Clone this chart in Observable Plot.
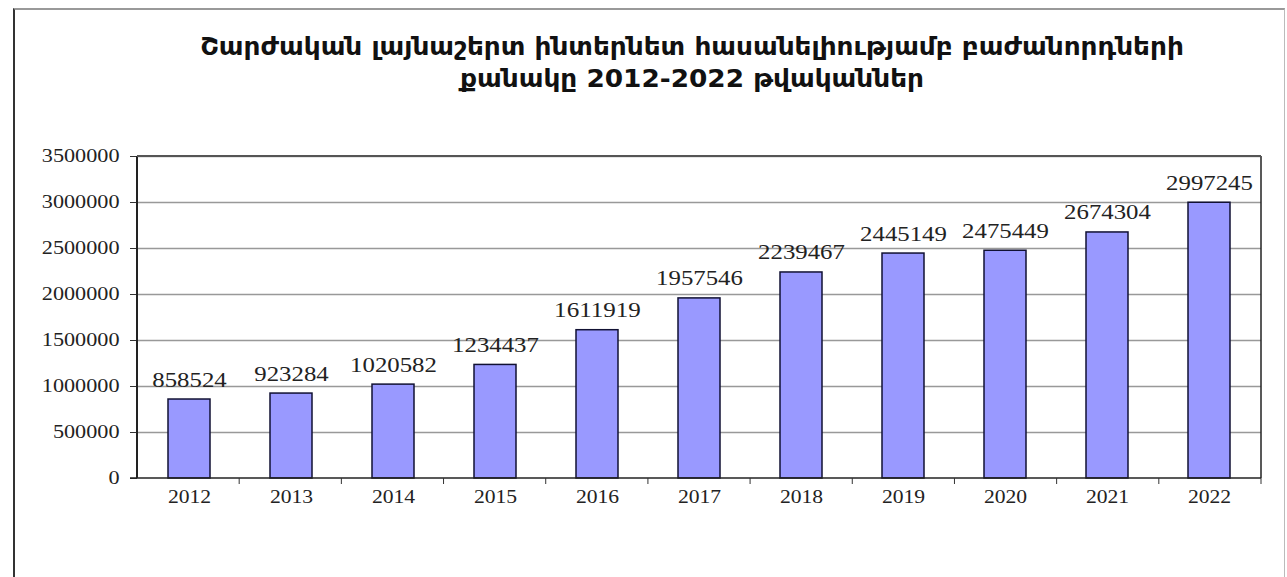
<!DOCTYPE html>
<html>
<head>
<meta charset="utf-8">
<script src="https://cdn.jsdelivr.net/npm/d3@7"></script>
<script src="https://cdn.jsdelivr.net/npm/@observablehq/plot@0.6"></script>
<style>
  html, body { margin: 0; padding: 0; background: #fff; }
  #wrap { position: relative; width: 1287px; height: 577px; overflow: hidden; }
  #box { position: absolute; left: 13px; top: 8px; width: 1272px; height: 600px;
         border-left: 2px solid #333; border-top: 2px solid #999; border-right: 1px solid #bbb; box-sizing: border-box; }
  #title { position: absolute; left: 0; width: 1384px; top: 31px; text-align: center;
           font-family: "DejaVu Sans Condensed", "DejaVu Sans", sans-serif; font-weight: bold;
           font-size: 24px; line-height: 32px; color: #111;
           transform: scaleX(1.22); transform-origin: 692px 0; }
  #title span { display: block; }
  #chart { position: absolute; left: 0; top: 0; }
</style>
</head>
<body>
<div id="wrap">
  <div id="box"></div>
  <div id="title"><span>Շարժական լայնաշերտ ինտերնետ հասանելիությամբ բաժանորդների</span><span>քանակը 2012-2022 թվականներ</span></div>
  <div id="chart"></div>
</div>
<script>
const years = ["2012","2013","2014","2015","2016","2017","2018","2019","2020","2021","2022"];
const subscribers = [858524, 923284, 1020582, 1234437, 1611919, 1957546, 2239467, 2445149, 2475449, 2674304, 2997245];
const yTicks = [0, 500000, 1000000, 1500000, 2000000, 2500000, 3000000, 3500000];

const data = years.map((y, i) => ({year: y, value: subscribers[i]}));

const W = 1287, H = 577;
const mL = 137, mR = 26, mT = 156, mB = 99;

// small tick marks at category boundaries below the x axis
function boundaryTicks(index, scales, values, dimensions) {
  const {width, height, marginLeft, marginRight, marginBottom} = dimensions;
  const n = years.length;
  const step = (width - marginLeft - marginRight) / n;
  const g = d3.create("svg:g");
  const y0 = height - marginBottom;
  for (let k = 1; k <= n; k++) {
    const x = marginLeft + k * step;
    g.append("line").attr("x1", x).attr("x2", x).attr("y1", y0).attr("y2", y0 + 6)
      .attr("stroke", "#333").attr("stroke-width", 1);
  }
  return g.node();
}

const plot = Plot.plot({
  width: W, height: H,
  marginLeft: mL, marginRight: mR, marginTop: mT, marginBottom: mB,
  style: {fontFamily: "'Liberation Serif', 'Times New Roman', serif", background: "transparent", overflow: "visible"},
  x: {domain: years, paddingInner: 0.59, paddingOuter: 0.295, label: null},
  y: {domain: [0, 3500000], label: null},
  marks: [
    Plot.ruleY(yTicks.slice(1), {stroke: "#999", strokeWidth: 1.5}),
    Plot.barY(data, {x: "year", y: "value", fill: "#9999ff", stroke: "#111133", strokeWidth: 1.5}),
    Plot.text(data, {x: "year", y: "value", text: d => String(d.value), dy: -13, fontSize: 21, fill: "#222", lineAnchor: "bottom", textAnchor: "middle", className: "vlabels"}),
    Plot.axisY({ticks: yTicks, tickFormat: d => String(d), tickSize: 7, tickPadding: 11, fontSize: 18, color: "#222", stroke: "#333"}),
    Plot.axisX({tickSize: 0, tickPadding: 12, fontSize: 18, color: "#222"}),
    () => {
      const g = d3.create("svg:g");
      g.append("line").attr("x1", mL).attr("x2", mL).attr("y1", mT).attr("y2", H - mB).attr("stroke", "#222").attr("stroke-width", 2);
      g.append("line").attr("x1", W - mR).attr("x2", W - mR).attr("y1", mT).attr("y2", H - mB).attr("stroke", "#222").attr("stroke-width", 1.5);
      g.append("line").attr("x1", mL).attr("x2", W - mR).attr("y1", mT).attr("y2", mT).attr("stroke", "#555").attr("stroke-width", 2);
      g.append("line").attr("x1", mL - 7).attr("x2", W - mR).attr("y1", H - mB).attr("y2", H - mB).attr("stroke", "#222").attr("stroke-width", 1.5);
      return g.node();
    },
    boundaryTicks
  ]
});

// stretch glyphs horizontally like the original (wide serif digits)
function stretch(sel, perChar) {
  sel.each(function () {
    const t = this.textContent;
    if (!t) return;
    this.setAttribute("textLength", (t.length * perChar).toFixed(1));
    this.setAttribute("lengthAdjust", "spacingAndGlyphs");
  });
}
const root = d3.select(plot);
stretch(root.selectAll('g[aria-label="y-axis tick label"] text'), 11.1);
stretch(root.selectAll('g[aria-label="x-axis tick label"] text'), 10.8);
stretch(root.selectAll('g[aria-label="text"] text'), 12.4);

document.getElementById("chart").appendChild(plot);
</script>
</body>
</html>
